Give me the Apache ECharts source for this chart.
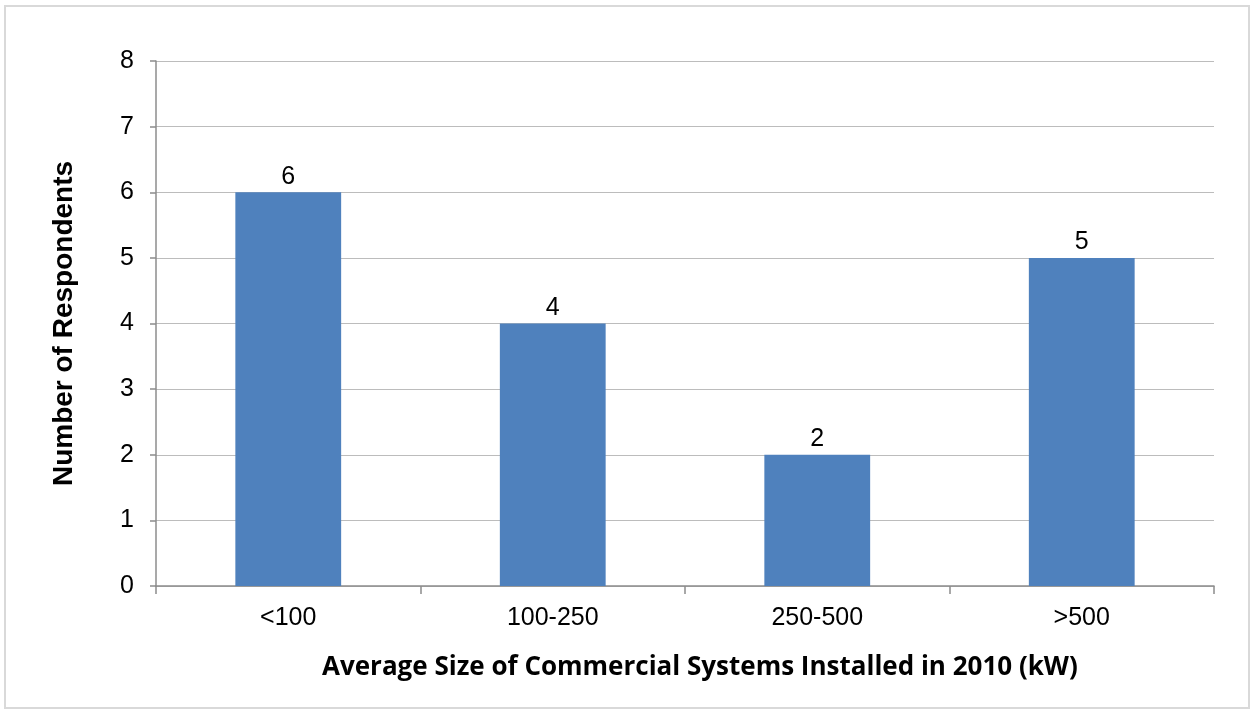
<!DOCTYPE html>
<html>
<head>
<meta charset="utf-8">
<script src="https://cdn.jsdelivr.net/npm/echarts@6/dist/echarts.min.js"></script>
<style>
html,body{margin:0;padding:0;background:#fff;}
#frame{position:absolute;left:4px;top:5px;width:1246px;height:704px;border:2px solid #d9d9d9;box-sizing:border-box;}
#chart{position:absolute;left:0;top:0;width:1255px;height:715px;}
</style>
</head>
<body>
<div id="frame"></div>
<div id="chart"></div>
<script>
const categories = ['<100', '100-250', '250-500', '>500'];
const respondents = [6, 4, 2, 5];
const yTicks = [0, 1, 2, 3, 4, 5, 6, 7, 8];

const chart = echarts.init(document.getElementById('chart'));
chart.setOption({
  animation: false,
  grid: {left: 156, right: 41, top: 61, bottom: 129, containLabel: false},
  xAxis: {
    type: 'category',
    data: categories,
    axisLine: {lineStyle: {color: '#8c8c8c', width: 1.5}},
    axisTick: {show: true, length: 8, lineStyle: {color: '#8c8c8c', width: 1.5}},
    axisLabel: {color: '#000', fontFamily: 'Liberation Sans', fontSize: 25, margin: 20}
  },
  yAxis: {
    type: 'value',
    min: yTicks[0],
    max: yTicks[yTicks.length - 1],
    interval: 1,
    name: 'Number of Respondents',
    nameLocation: 'middle',
    nameGap: 78,
    nameRotate: 90,
    nameTextStyle: {color: '#000', fontFamily: 'Liberation Sans', fontWeight: 'bold', fontSize: 28},
    axisLine: {show: true, lineStyle: {color: '#8c8c8c', width: 1.5}},
    axisTick: {show: true, length: 6, lineStyle: {color: '#8c8c8c', width: 1.5}},
    axisLabel: {color: '#000', fontFamily: 'Liberation Sans', fontSize: 25, margin: 22},
    splitLine: {lineStyle: {color: '#bcbcbc', width: 1.2}}
  },
  graphic: [{
    type: 'text',
    left: 322,
    top: 655,
    style: {
      text: 'Average Size of Commercial Systems Installed in 2010 (kW)',
      fill: '#000',
      font: 'bold 26px "Open Sans", "Liberation Sans", sans-serif'
    }
  }],
  series: [{
    type: 'bar',
    data: respondents,
    barWidth: '40%',
    itemStyle: {color: '#4F81BD'},
    label: {show: true, position: 'top', distance: 3, color: '#000', fontFamily: 'Liberation Sans', fontSize: 25}
  }]
});
</script>
</body>
</html>
